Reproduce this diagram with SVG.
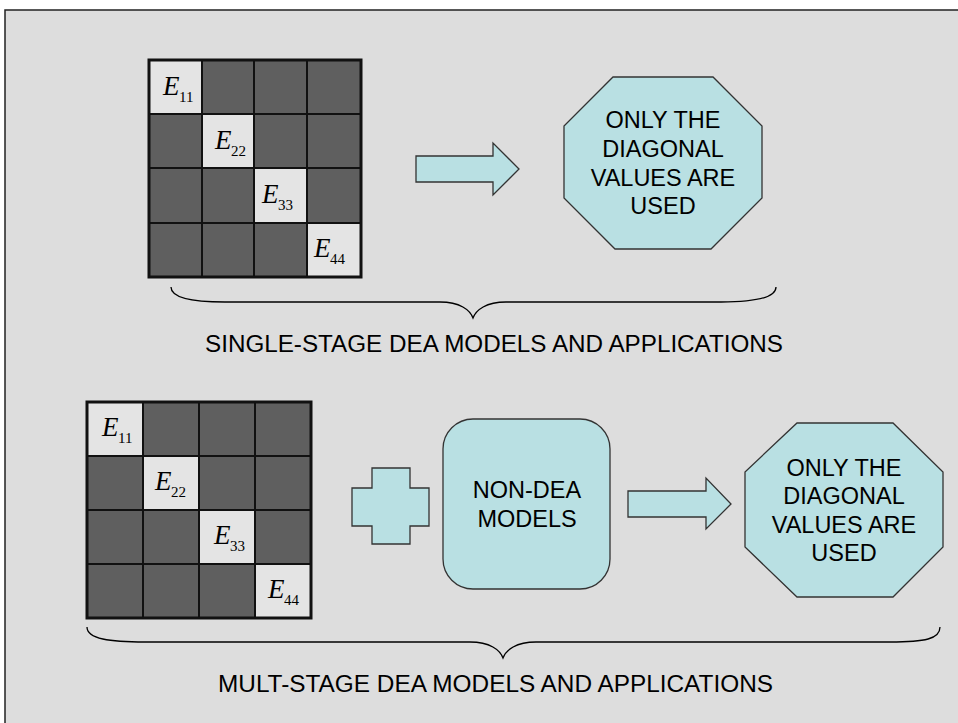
<svg xmlns="http://www.w3.org/2000/svg" width="958" height="723" viewBox="0 0 958 723">
<style>
.bg{fill:#dddddd}
.dk{fill:#5f5f5f}
.lt{fill:#e4e4e4}
.grid{fill:none;stroke:#111;stroke-width:2}
.frame{fill:none;stroke:#111;stroke-width:3}
.shape{fill:#b9e0e3;stroke:#333;stroke-width:1.3}
.E{font-family:"Liberation Serif","Times New Roman",serif;font-style:italic;font-size:27px;fill:#000}
.sub{font-family:"Liberation Serif","Times New Roman",serif;font-size:15px;fill:#000}
.t{font-family:"Liberation Sans",Arial,sans-serif;font-size:23.5px;fill:#000;text-anchor:middle}
.lbl{font-family:"Liberation Sans",Arial,sans-serif;font-size:23px;fill:#000}
.brace{fill:none;stroke:#000;stroke-width:1.3}
</style>
<rect x="0" y="0" width="958" height="723" fill="#ffffff"/>
<rect class="bg" x="5" y="10" width="953" height="713"/>
<path d="M5,723 V10 H958" fill="none" stroke="#222" stroke-width="1.5"/>

<g id="matrix-top">
<rect class="dk" x="149" y="60" width="212" height="217"/>
<rect class="lt" x="149" y="60" width="53" height="54"/>
<rect class="lt" x="202" y="114" width="52" height="54"/>
<rect class="lt" x="254" y="168" width="53" height="55"/>
<rect class="lt" x="307" y="223" width="54" height="54"/>
<path class="grid" d="M202,60V277M254,60V277M307,60V277M149,114H361M149,168H361M149,223H361"/>
<rect class="frame" x="149" y="60" width="212" height="217"/>
<text class="E" x="163" y="95">E</text><text class="sub" x="179" y="102">11</text>
<text class="E" x="215" y="149">E</text><text class="sub" x="231" y="156">22</text>
<text class="E" x="262" y="203">E</text><text class="sub" x="278" y="210">33</text>
<text class="E" x="314" y="257">E</text><text class="sub" x="330" y="264">44</text>
</g>

<g id="arrow-top">
<polygon class="shape" points="416,156 493,156 493,143 519,169 493,195 493,182 416,182"/>
</g>

<g id="octagon-top">
<polygon class="shape" points="613,77 713,77 762,126 762,198 711,249 615,249 564,198 564,126"/>
<text class="t" x="663" y="128">ONLY THE</text>
<text class="t" x="663" y="157">DIAGONAL</text>
<text class="t" x="663" y="186">VALUES ARE</text>
<text class="t" x="663" y="214">USED</text>
</g>

<g id="brace-top">
<path class="brace" d="M171,287 C171,299 195,302 225,302 L440,302 C460,302 470,310 473,318 C476,310 486,302 506,302 L721,302 C751,302 776,299 776,287"/>
<text class="lbl" x="205" y="352" textLength="578" lengthAdjust="spacingAndGlyphs">SINGLE-STAGE DEA MODELS AND APPLICATIONS</text>
</g>

<g id="matrix-bottom">
<rect class="dk" x="87" y="402" width="224" height="216"/>
<rect class="lt" x="87" y="402" width="56" height="54"/>
<rect class="lt" x="143" y="456" width="56" height="54"/>
<rect class="lt" x="199" y="510" width="56" height="54"/>
<rect class="lt" x="255" y="564" width="56" height="54"/>
<path class="grid" d="M143,402V618M199,402V618M255,402V618M87,456H311M87,510H311M87,564H311"/>
<rect class="frame" x="87" y="402" width="224" height="216"/>
<text class="E" x="102" y="436">E</text><text class="sub" x="118" y="443">11</text>
<text class="E" x="155" y="490">E</text><text class="sub" x="171" y="497">22</text>
<text class="E" x="214" y="544">E</text><text class="sub" x="230" y="551">33</text>
<text class="E" x="268" y="598">E</text><text class="sub" x="284" y="605">44</text>
</g>

<g id="plus">
<polygon class="shape" points="372,468 410,468 410,488 429,488 429,526 410,526 410,544 372,544 372,526 352,526 352,488 372,488"/>
</g>

<g id="non-dea">
<rect class="shape" x="443" y="419" width="167" height="170" rx="30" ry="30"/>
<text class="t" x="527" y="498">NON-DEA</text>
<text class="t" x="527" y="527">MODELS</text>
</g>

<g id="arrow-bottom">
<polygon class="shape" points="628,491 706,491 706,478 731,504 706,529 706,517 628,517"/>
</g>

<g id="octagon-bottom">
<polygon class="shape" points="797,423 893,423 943,472 943,547 893,597 797,597 745,547 745,472"/>
<text class="t" x="844" y="476">ONLY THE</text>
<text class="t" x="844" y="504">DIAGONAL</text>
<text class="t" x="844" y="533">VALUES ARE</text>
<text class="t" x="844" y="561">USED</text>
</g>

<g id="brace-bottom">
<path class="brace" d="M87,627 C87,639 110,642 145,642 L470,642 C490,642 500,650 503,658 C506,650 516,642 536,642 L890,642 C925,642 940,639 940,627"/>
<text class="lbl" x="218" y="692" textLength="555" lengthAdjust="spacingAndGlyphs">MULT-STAGE DEA MODELS AND APPLICATIONS</text>
</g>
</svg>
